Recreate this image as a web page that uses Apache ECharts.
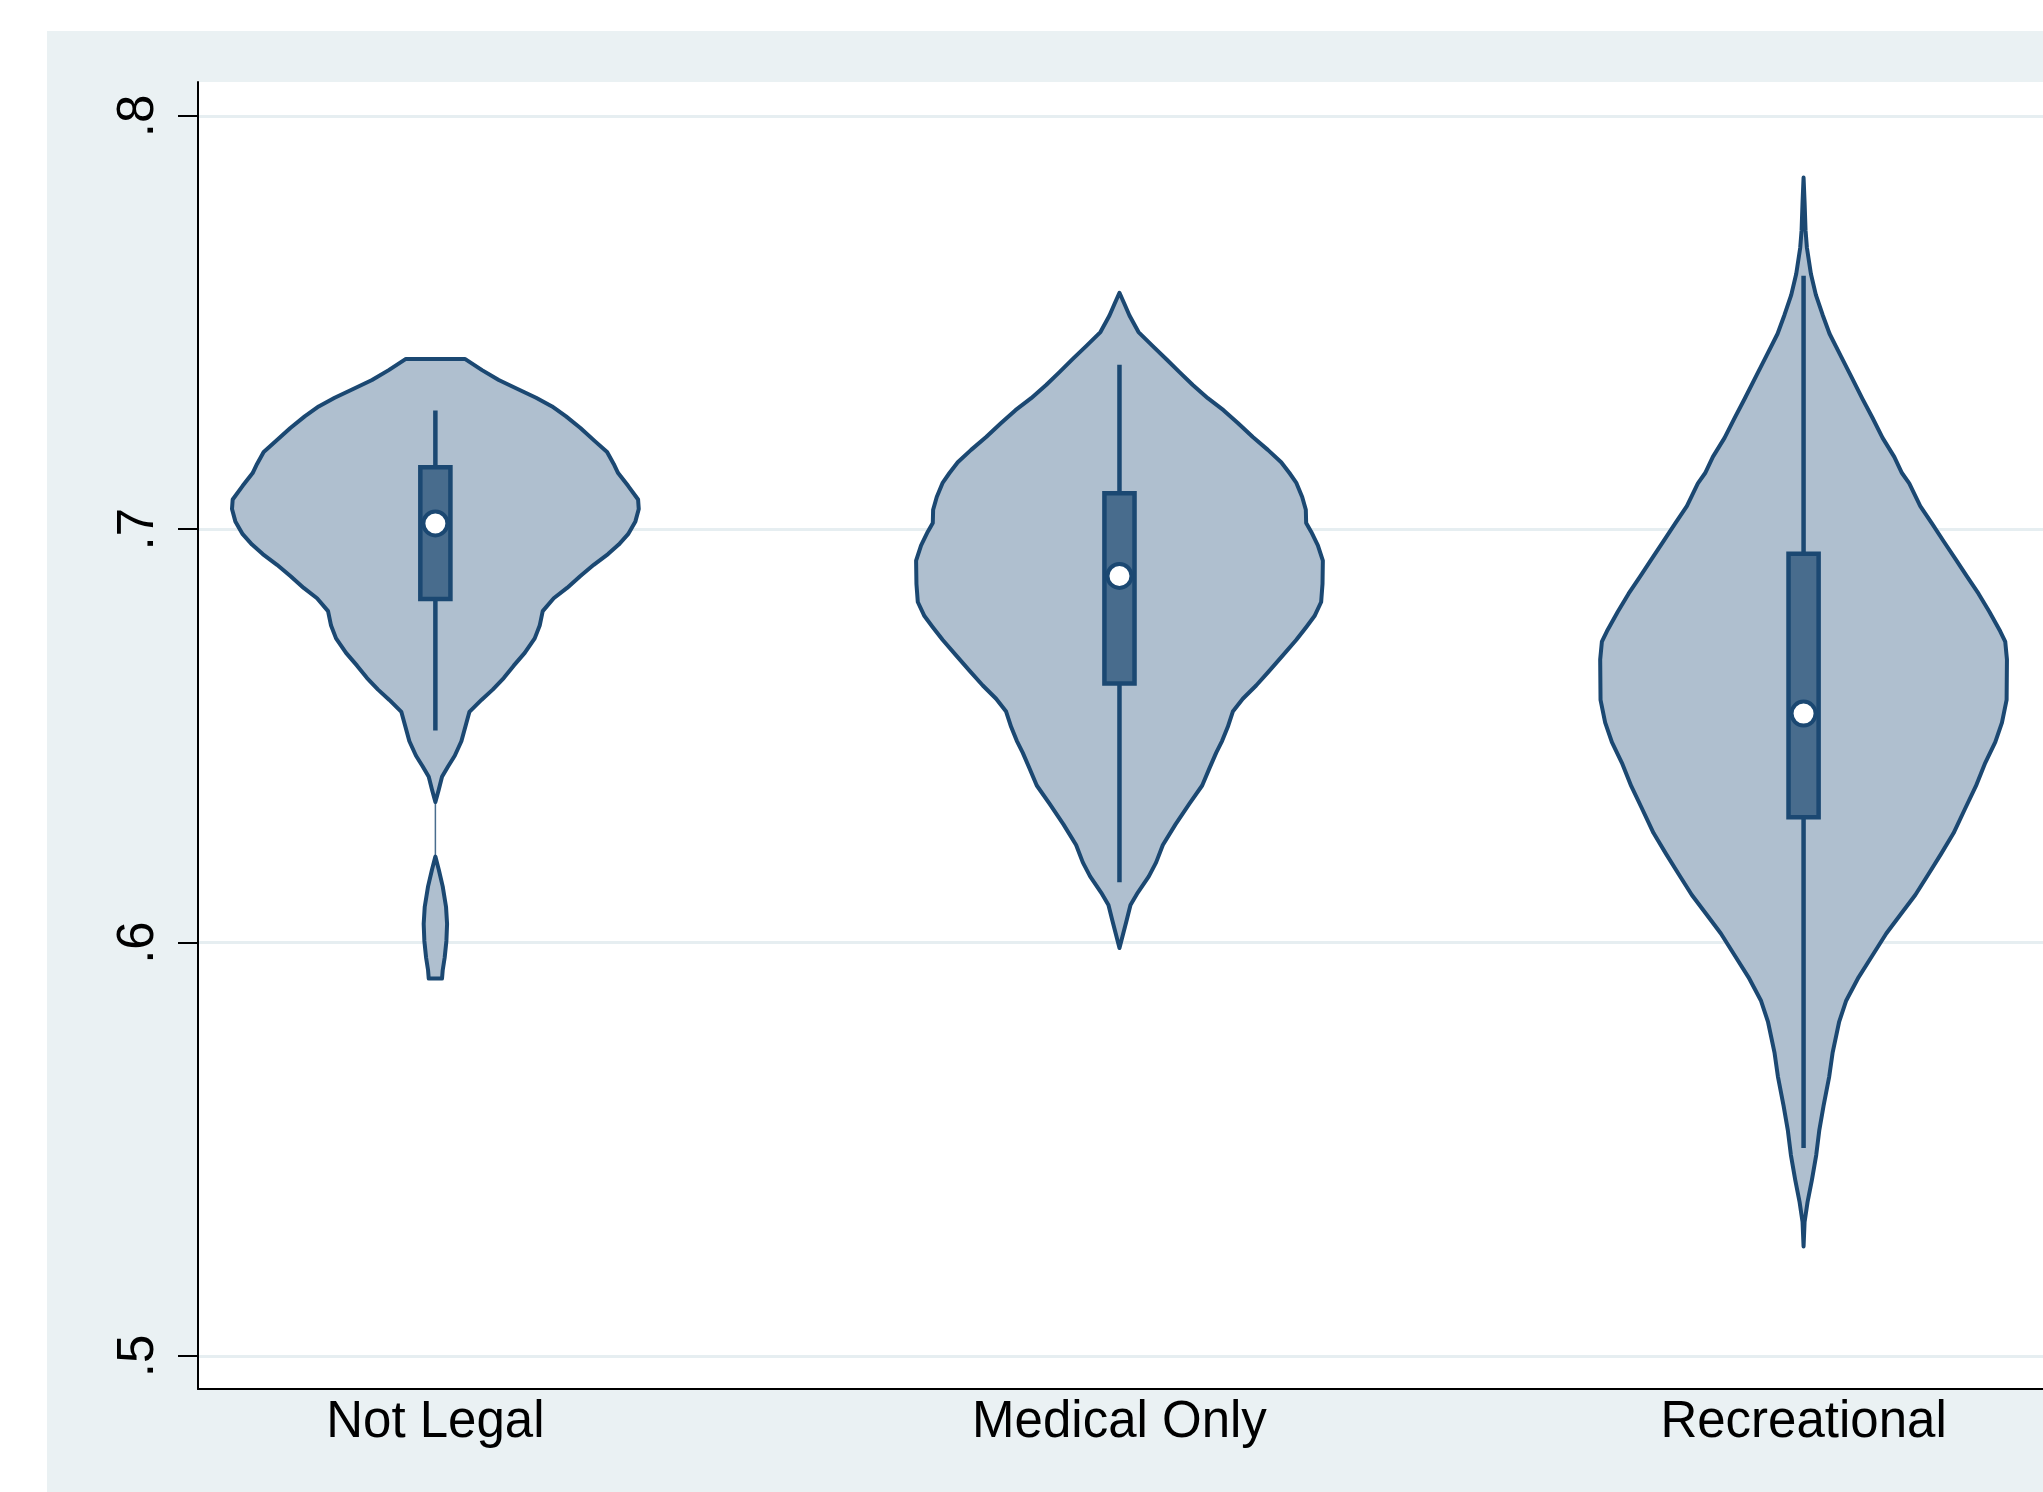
<!DOCTYPE html>
<html><head><meta charset="utf-8">
<script src="https://cdn.jsdelivr.net/npm/echarts@6/dist/echarts.min.js"></script>
<style>html,body{margin:0;padding:0;background:#fff}#c{width:2043px;height:1492px}</style>
</head><body><div id="c"></div>
<script>
// ---- data ----
const categories = ['Not Legal', 'Medical Only', 'Recreational'];
const yTicks = [0.5, 0.6, 0.7, 0.8];
const yTickLabels = ['.5', '.6', '.7', '.8'];

// violin outlines: value (y) and half-width (in category units)
const notLegalY = [0.7412, 0.7385, 0.7361, 0.7340, 0.7318, 0.7297, 0.7273, 0.7245, 0.7212, 0.7187, 0.7158, 0.7136, 0.7105, 0.7072, 0.7049, 0.7019, 0.6988, 0.6963, 0.6940, 0.6914, 0.6887, 0.6858, 0.6833, 0.6802, 0.6767, 0.6736, 0.6701, 0.6670, 0.6640, 0.6612, 0.6587, 0.6558, 0.6528, 0.6487, 0.6452, 0.6426, 0.6401, 0.6370, 0.6340, 0.6208, 0.6177, 0.6136, 0.6086, 0.6045, 0.6004, 0.5964, 0.5933, 0.5913];
const notLegalW = [0.0431, 0.0682, 0.0926, 0.1194, 0.1472, 0.1706, 0.1910, 0.2120, 0.2339, 0.2510, 0.2607, 0.2671, 0.2817, 0.2963, 0.2973, 0.2924, 0.2817, 0.2680, 0.2524, 0.2315, 0.2120, 0.1925, 0.1730, 0.1569, 0.1525, 0.1452, 0.1306, 0.1145, 0.0999, 0.0838, 0.0673, 0.0497, 0.0448, 0.0380, 0.0283, 0.0185, 0.0097, 0.0049, 0, 0, 0.0049, 0.0107, 0.0156, 0.0171, 0.0161, 0.0136, 0.0107, 0.0097];

const medicalY = [0.7572, 0.7545, 0.7517, 0.7477, 0.7443, 0.7412, 0.7380, 0.7349, 0.7317, 0.7288, 0.7257, 0.7223, 0.7192, 0.7162, 0.7136, 0.7113, 0.7078, 0.7047, 0.7015, 0.6994, 0.6961, 0.6924, 0.6868, 0.6824, 0.6790, 0.6763, 0.6732, 0.6695, 0.6658, 0.6622, 0.6590, 0.6559, 0.6522, 0.6488, 0.6459, 0.6422, 0.6380, 0.6336, 0.6286, 0.6236, 0.6194, 0.6160, 0.6121, 0.6091, 0.6055, 0.5987];
const medicalW = [0, 0.0073, 0.0146, 0.0278, 0.0487, 0.0682, 0.0877, 0.1072, 0.1291, 0.1520, 0.1730, 0.1949, 0.2169, 0.2364, 0.2485, 0.2583, 0.2671, 0.2724, 0.2729, 0.2802, 0.2900, 0.2973, 0.2968, 0.2948, 0.2851, 0.2729, 0.2583, 0.2388, 0.2193, 0.1998, 0.1803, 0.1657, 0.1584, 0.1501, 0.1413, 0.1316, 0.1209, 0.1023, 0.0819, 0.0634, 0.0536, 0.0429, 0.0268, 0.0161, 0.0107, 0];

const recreationalY = [0.7851, 0.7791, 0.7723, 0.7681, 0.7618, 0.7567, 0.7519, 0.7473, 0.7422, 0.7371, 0.7315, 0.7269, 0.7221, 0.7175, 0.7136, 0.7111, 0.7056, 0.7014, 0.6971, 0.6929, 0.6886, 0.6844, 0.6801, 0.6753, 0.6728, 0.6685, 0.6587, 0.6532, 0.6485, 0.6435, 0.6379, 0.6325, 0.6265, 0.6214, 0.6166, 0.6115, 0.6069, 0.6022, 0.5967, 0.5916, 0.5860, 0.5809, 0.5733, 0.5676, 0.5605, 0.5545, 0.5486, 0.5426, 0.5372, 0.5324, 0.5265];
const recreationalW = [0, 0.0015, 0.0029, 0.0049, 0.0107, 0.0180, 0.0278, 0.0380, 0.0536, 0.0692, 0.0863, 0.1009, 0.1155, 0.1326, 0.1438, 0.1545, 0.1706, 0.1876, 0.2047, 0.2217, 0.2388, 0.2558, 0.2714, 0.2875, 0.2948, 0.2973, 0.2968, 0.2900, 0.2802, 0.2656, 0.2520, 0.2364, 0.2193, 0.2008, 0.1827, 0.1633, 0.1423, 0.1209, 0.0999, 0.0804, 0.0624, 0.0521, 0.0424, 0.0375, 0.0292, 0.0229, 0.0185, 0.0122, 0.0058, 0.0015, 0];

// box plot statistics
const medians = [0.7014, 0.6887, 0.6554];
const q1 = [0.6831, 0.6627, 0.6303];
const q3 = [0.7150, 0.7087, 0.6941];
const lowerAdj = [0.6513, 0.6146, 0.5503];
const upperAdj = [0.7287, 0.7398, 0.7613];

// ---- style ----
const FONT = 'Liberation Sans, Arial, Helvetica, sans-serif';
const LINE = '#1B4872';
const VFILL = '#AFBFCF';
const BFILL = '#486C8D';
const BOX_HALF = 0.022;

const violinData = [[notLegalY, notLegalW], [medicalY, medicalW], [recreationalY, recreationalW]];

function violinRender(params, api) {
  const i = params.dataIndex;
  const cx = api.value(0);
  const ys = violinData[i][0], ws = violinData[i][1];
  const polys = [];
  const gaps = [];
  let cur = [];
  for (let k = 0; k < ys.length; k++) {
    cur.push(k);
    if (ws[k] === 0 && k + 1 < ys.length && ws[k + 1] === 0) { polys.push(cur); cur = []; gaps.push([k, k + 1]); }
  }
  if (cur.length) polys.push(cur);
  const children = [];
  gaps.forEach(function (g) {
    const p1 = api.coord([cx, ys[g[0]]]);
    const p2 = api.coord([cx, ys[g[1]]]);
    children.push({
      type: 'line', shape: { x1: p1[0], y1: p1[1], x2: p2[0], y2: p2[1] },
      style: { stroke: LINE, lineWidth: 1.5, opacity: 0.8 }
    });
  });
  polys.forEach(function (idx) {
    if (idx.length < 2) return;
    const pts = [];
    idx.forEach(function (k) { pts.push(api.coord([cx + ws[k], ys[k]])); });
    idx.slice().reverse().forEach(function (k) { pts.push(api.coord([cx - ws[k], ys[k]])); });
    children.push({
      type: 'polygon',
      shape: { points: pts },
      style: { fill: VFILL, stroke: LINE, lineWidth: 4, lineJoin: 'round' }
    });
  });
  return { type: 'group', children: children };
}

function boxRender(params, api) {
  const i = params.dataIndex;
  const cx = api.value(0);
  const top = api.coord([cx, upperAdj[i]]);
  const bot = api.coord([cx, lowerAdj[i]]);
  const a = api.coord([cx - BOX_HALF, q3[i]]);
  const b = api.coord([cx + BOX_HALF, q1[i]]);
  return {
    type: 'group',
    children: [
      { type: 'line', shape: { x1: top[0], y1: top[1], x2: bot[0], y2: bot[1] },
        style: { stroke: LINE, lineWidth: 4.5 } },
      { type: 'rect', shape: { x: a[0], y: a[1], width: b[0] - a[0], height: b[1] - a[1] },
        style: { fill: BFILL, stroke: LINE, lineWidth: 4.5 } }
    ]
  };
}

const chart = echarts.init(document.getElementById('c'), null, { renderer: 'canvas' });
chart.setOption({
  backgroundColor: '#ffffff',
  animation: false,
  graphic: [{
    type: 'rect', z: -100, silent: true,
    shape: { x: 47, y: 31, width: 2000, height: 1465 },
    style: { fill: '#EAF1F3' }
  }],
  grid: {
    left: 198, top: 82, right: 0, bottom: 103,
    show: true, backgroundColor: '#ffffff', borderWidth: 0
  },
  xAxis: {
    type: 'value', min: 0.653, max: 3.35,
    axisLine: { show: true, lineStyle: { color: '#000', width: 2 } },
    axisTick: { show: false },
    splitLine: { show: false },
    axisLabel: {
      customValues: [1, 2, 3],
      formatter: function (v) { return categories[Math.round(v) - 1] || ''; },
      color: '#000', fontSize: 51, fontFamily: FONT, margin: 8
    }
  },
  yAxis: {
    type: 'value', min: 0.4920, max: 0.8082,
    axisLine: { show: true, lineStyle: { color: '#000', width: 2 } },
    axisTick: { show: true, customValues: yTicks, length: 20, lineStyle: { color: '#000', width: 2 } },
    splitLine: { show: false },
    axisLabel: {
      customValues: yTicks,
      rotate: 90,
      formatter: function (v) {
        for (let k = 0; k < yTicks.length; k++) if (Math.abs(yTicks[k] - v) < 1e-6) return yTickLabels[k];
        return '';
      },
      color: '#000', fontSize: 51, fontFamily: FONT, margin: 34
    }
  },
  series: [
    {
      type: 'custom', name: 'violin', z: 2,
      renderItem: violinRender,
      data: categories.map(function (c, i) { return [i + 1, medians[i]]; }),
      markLine: {
        z: 0, silent: true, symbol: ['none', 'none'], label: { show: false },
        lineStyle: { color: '#E6EEF1', width: 3, type: 'solid' },
        emphasis: { disabled: true },
        data: yTicks.map(function (v) { return { yAxis: v }; })
      }
    },
    {
      type: 'custom', name: 'box', z: 3,
      renderItem: boxRender,
      data: categories.map(function (c, i) { return [i + 1, medians[i]]; })
    },
    {
      type: 'scatter', name: 'median', z: 4,
      symbol: 'circle', symbolSize: 24,
      itemStyle: { color: '#ffffff', borderColor: LINE, borderWidth: 4, opacity: 1 },
      data: categories.map(function (c, i) { return [i + 1, medians[i]]; })
    }
  ]
});
</script>
</body></html>
